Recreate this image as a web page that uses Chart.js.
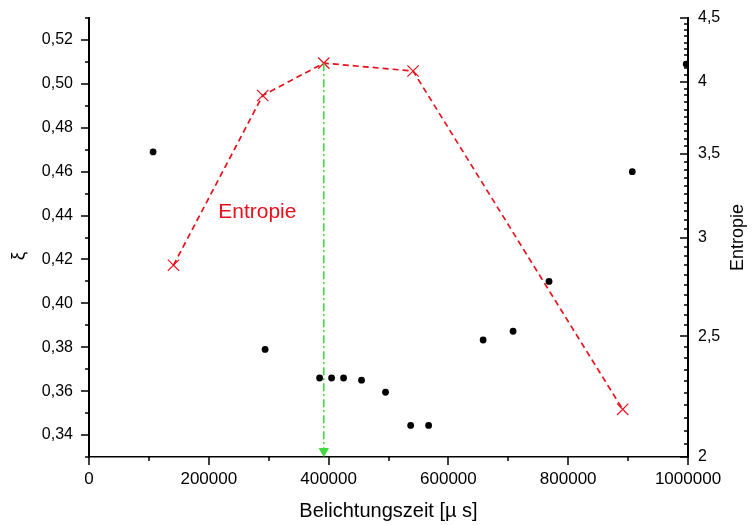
<!DOCTYPE html>
<html lang="de">
<head>
    <meta charset="UTF-8">
    <title>Belichtungszeit</title>
    <script src="https://cdn.jsdelivr.net/npm/chart.js@4.4.0/dist/chart.umd.min.js"></script>
    <style>
        body { margin: 0; background: #fff; }
        canvas { display: block; }
    </style>
</head>
<body>
    <canvas id="chart" width="752" height="525"></canvas>

    <script>
        // xi values (left axis)
        const xiX = [107000, 294000, 385000, 405000, 425000, 455000, 495000, 537000, 567000, 658000, 708000, 768000, 907000, 997000];
        const xiY = [0.469, 0.379, 0.366, 0.366, 0.366, 0.365, 0.3595, 0.3444, 0.3444, 0.3833, 0.3873, 0.410, 0.460, 0.509];

        // Entropie (right axis, log)
        const entX = [141000, 290000, 392000, 541000, 891000];
        const entY = [2.85, 3.90, 4.14, 4.08, 2.184];

        // green marker line at the maximum
        const markX = 392000;
        const markY = [4.14, 2.022];

        const xTicks = [0, 200000, 400000, 600000, 800000, 1000000];
        const yTicks = [0.34, 0.36, 0.38, 0.40, 0.42, 0.44, 0.46, 0.48, 0.50, 0.52];
        const y1Ticks = [2, 2.5, 3, 3.5, 4, 4.5];

        const labelPos = { x: 281000, y: 0.4416 };

        const FONT = "'Liberation Sans', Arial, sans-serif";
        const RED = '#e8101a';
        const GREEN = '#3fd83f';

        const comma = v => String(Math.round(v * 100) / 100).replace('.', ',');
        const comma2 = v => v.toFixed(2).replace('.', ',');

        // outward / inward tick marks incl. minor ones
        const axisTicks = {
            id: 'axisTicks',
            afterDraw(chart) {
                const { ctx, chartArea: a, scales } = chart;
                ctx.save();
                ctx.strokeStyle = '#000';
                ctx.lineWidth = 1.5;
                ctx.beginPath();
                for (let i = 33; i <= 53; i++) {
                    const y = Math.round(scales.y.getPixelForValue(i / 100));
                    const len = i % 2 === 0 ? 8 : 4;
                    ctx.moveTo(a.left, y);
                    ctx.lineTo(a.left - len, y);
                }
                for (let i = 0; i <= 10; i++) {
                    const x = Math.round(scales.x.getPixelForValue(i * 100000));
                    const len = i % 2 === 0 ? 8 : 4;
                    ctx.moveTo(x, a.bottom);
                    ctx.lineTo(x, a.bottom + len);
                }
                for (let i = 40; i <= 90; i++) {
                    const y = Math.round(scales.y1.getPixelForValue(i / 20));
                    const len = i % 10 === 0 ? 8 : 4;
                    ctx.moveTo(a.right, y);
                    ctx.lineTo(a.right - len, y);
                }
                ctx.stroke();

                // axis titles and label
                ctx.fillStyle = '#000';
                ctx.textAlign = 'center';
                ctx.textBaseline = 'middle';
                ctx.font = '19px ' + FONT;
                ctx.save();
                ctx.translate(19, 256);
                ctx.rotate(-Math.PI / 2);
                ctx.fillText('ξ', 0, 0);
                ctx.restore();

                ctx.font = '18px ' + FONT;
                ctx.save();
                ctx.translate(738, (a.top + a.bottom) / 2);
                ctx.rotate(-Math.PI / 2);
                ctx.fillText('Entropie', 0, 0);
                ctx.restore();

                ctx.fillStyle = RED;
                ctx.font = '21px ' + FONT;
                ctx.fillText('Entropie', scales.x.getPixelForValue(labelPos.x), scales.y.getPixelForValue(labelPos.y));
                ctx.restore();
            }
        };

        const setTicks = list => scale => { scale.ticks = list.map(v => ({ value: v })); };

        new Chart(document.getElementById('chart'), {
            type: 'scatter',
            data: {
                datasets: [
                    {
                        label: 'Marker',
                        data: markY.map(y => ({ x: markX, y: y })),
                        yAxisID: 'y1',
                        showLine: true,
                        borderColor: GREEN,
                        backgroundColor: GREEN,
                        borderWidth: 1.6,
                        borderDash: [8, 3, 2, 3],
                        pointStyle: 'triangle',
                        rotation: 180,
                        pointRadius: [0, 6],
                        pointBorderWidth: 0
                    },
                    {
                        label: 'Entropie',
                        data: entX.map((x, i) => ({ x: x, y: entY[i] })),
                        yAxisID: 'y1',
                        showLine: true,
                        borderColor: RED,
                        backgroundColor: RED,
                        borderWidth: 1.7,
                        borderDash: [6, 4],
                        pointStyle: 'crossRot',
                        pointRadius: 8,
                        pointBorderWidth: 1.2
                    },
                    {
                        label: 'xi',
                        data: xiX.map((x, i) => ({ x: x, y: xiY[i] })),
                        yAxisID: 'y',
                        backgroundColor: '#000',
                        borderColor: '#000',
                        pointRadius: 3.4,
                        pointBorderWidth: 0
                    }
                ]
            },
            options: {
                responsive: false,
                animation: false,
                layout: { padding: { top: 18, left: 0, right: 0, bottom: 0 } },
                plugins: {
                    legend: { display: false },
                    tooltip: { enabled: false }
                },
                scales: {
                    x: {
                        type: 'linear',
                        position: 'bottom',
                        min: 0,
                        max: 1000000,
                        afterBuildTicks: setTicks(xTicks),
                        afterFit: s => { s.height = 68; s.paddingLeft = 0; s.paddingRight = 0; },
                        grid: { display: false, drawTicks: false },
                        border: { display: true, color: '#000', width: 1.5 },
                        ticks: {
                            autoSkip: false,
                            maxRotation: 0,
                            padding: 12,
                            color: '#000',
                            font: { family: FONT, size: 17 },
                            callback: v => String(v)
                        },
                        title: {
                            display: true,
                            text: 'Belichtungszeit [µ s]',
                            color: '#000',
                            font: { family: FONT, size: 20 },
                            padding: { top: 0, bottom: 2 }
                        }
                    },
                    y: {
                        type: 'linear',
                        position: 'left',
                        min: 0.33,
                        max: 0.53,
                        afterBuildTicks: setTicks(yTicks),
                        afterFit: s => { s.width = 89; s.paddingTop = 0; s.paddingBottom = 0; },
                        grid: { display: false, drawTicks: false },
                        border: { display: true, color: '#000', width: 2 },
                        ticks: {
                            autoSkip: false,
                            padding: 16,
                            color: '#000',
                            font: { family: FONT, size: 16 },
                            callback: v => comma2(v)
                        }
                    },
                    y1: {
                        type: 'logarithmic',
                        position: 'right',
                        min: 2,
                        max: 4.5,
                        afterBuildTicks: setTicks(y1Ticks),
                        afterFit: s => { s.width = 64; s.paddingTop = 0; s.paddingBottom = 0; },
                        grid: { display: false, drawTicks: false },
                        border: { display: true, color: '#000', width: 2 },
                        ticks: {
                            autoSkip: false,
                            padding: 10,
                            color: '#000',
                            font: { family: FONT, size: 16 },
                            callback: v => comma(v)
                        }
                    }
                }
            },
            plugins: [axisTicks]
        });
    </script>
</body>
</html>
